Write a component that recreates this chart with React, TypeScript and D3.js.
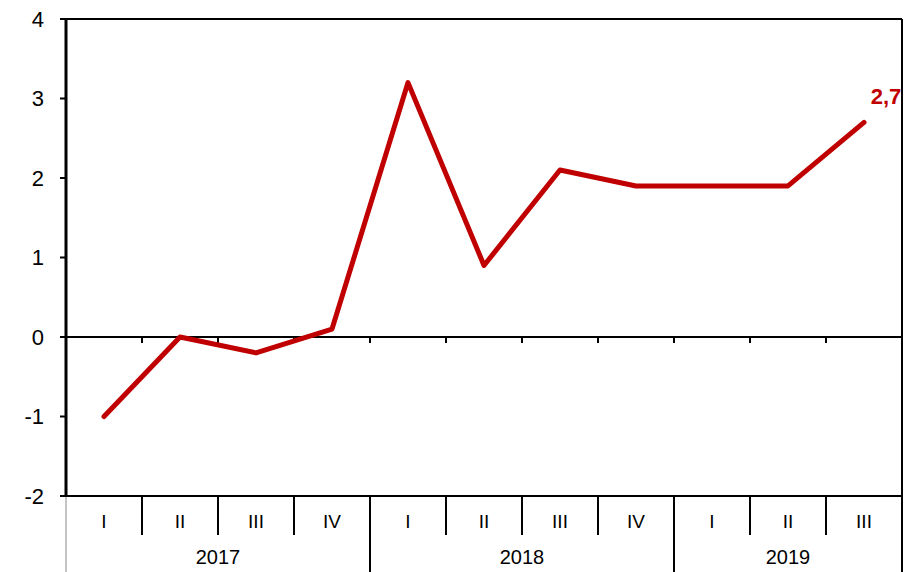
import React from "react";
import * as d3 from "d3";

const quarters = ["I", "II", "III", "IV", "I", "II", "III", "IV", "I", "II", "III"];
const years = ["2017", "2018", "2019"];
const yearSpans = [4, 4, 3];
const values = [-1, 0, -0.2, 0.1, 3.2, 0.9, 2.1, 1.9, 1.9, 1.9, 2.7];
const yTicks = [-2, -1, 0, 1, 2, 3, 4];
const lastLabel = "2,7";

export default function App() {
  const W = 912, H = 572;
  const left = 66, right = 902, top = 19, bottom = 496;
  const x = d3.scaleBand<number>().domain(d3.range(values.length)).range([left, right]);
  const y = d3.scaleLinear().domain([-2, 4]).range([bottom, top]);
  const line = d3.line<number>().x((_, i) => x(i)! + x.bandwidth() / 2).y((d) => y(d));
  const font = "Arial, 'Liberation Sans', sans-serif";

  const yearBounds: number[] = [];
  let acc = 0;
  yearSpans.forEach((s) => { yearBounds.push(acc); acc += s; });

  return (
    <svg width={W} height={H} style={{ position: "absolute", left: 0, top: 0 }} fontFamily={font}>
      <rect x={0} y={0} width={W} height={H} fill="#fff" />
      <line x1={left} x2={right} y1={top} y2={top} stroke="#000" strokeWidth={2} />
      <line x1={right} x2={right} y1={top} y2={H} stroke="#000" strokeWidth={2} />
      {yTicks.map((t) => (
        <g key={t}>
          <line x1={left - 6} x2={left} y1={y(t)} y2={y(t)} stroke="#000" strokeWidth={2} />
          <text x={44} y={y(t)} dy="0.35em" textAnchor="end" fontSize={22} fill="#000">{t}</text>
        </g>
      ))}
      <line x1={left} x2={right} y1={y(0)} y2={y(0)} stroke="#000" strokeWidth={2} />
      {d3.range(1, values.length).map((i) => (
        <line key={"zt" + i} x1={x(i)} x2={x(i)} y1={y(0)} y2={y(0) + 6} stroke="#000" strokeWidth={2} />
      ))}
      <line x1={left} x2={right} y1={bottom} y2={bottom} stroke="#000" strokeWidth={2} />
      {d3.range(1, values.length).map((i) => {
        const isYear = yearBounds.includes(i);
        return (
          <line key={"bt" + i} x1={x(i)} x2={x(i)} y1={bottom} y2={isYear ? H : bottom + 39} stroke="#000" strokeWidth={2} />
        );
      })}
      <line x1={left} x2={left} y1={bottom} y2={H} stroke="#888" strokeWidth={1} />
      <line x1={left} x2={left} y1={top - 1} y2={bottom + 1} stroke="#000" strokeWidth={3} />
      {quarters.map((q, i) => (
        <text key={"q" + i} x={x(i)! + x.bandwidth() / 2} y={521} dy="0.35em" textAnchor="middle" fontSize={19} fill="#000">{q}</text>
      ))}
      {years.map((yr, k) => {
        const start = yearBounds[k];
        const cx = (x(start)! + x(start + yearSpans[k] - 1)! + x.bandwidth()) / 2;
        return (
          <text key={yr} x={cx} y={557} dy="0.35em" textAnchor="middle" fontSize={20} fill="#000">{yr}</text>
        );
      })}
      <path d={line(values) || ""} fill="none" stroke="#C00000" strokeWidth={5} strokeLinejoin="round" strokeLinecap="round" />
      <text x={x(values.length - 1)! + x.bandwidth() / 2 + 22} y={y(values[values.length - 1]) - 26} dy="0.35em" textAnchor="middle" fontSize={22} fontWeight="bold" fill="#C00000">{lastLabel}</text>
    </svg>
  );
}
